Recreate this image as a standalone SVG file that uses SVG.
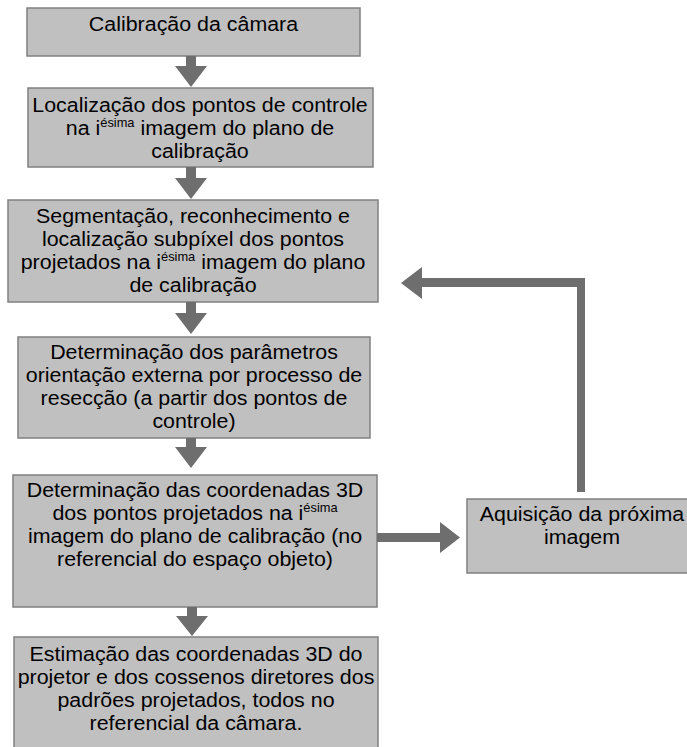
<svg xmlns="http://www.w3.org/2000/svg" width="687" height="747" viewBox="0 0 687 747">
<style>
.box{fill:#c0c0c0;stroke:#808080;stroke-width:1.5}
.t{font-family:"Liberation Sans",Arial,sans-serif;font-size:20px;fill:#000;text-anchor:middle}
.sup{font-size:12px}
.arr{fill:#6e6e6e;stroke:none}
</style>
<rect width="687" height="747" fill="#fff"/>
<g id="n1">
<rect class="box" x="27" y="8" width="333" height="48"/>
<g transform="translate(193.5,0) scale(1.07,1)">
<text class="t" x="0" y="31">Calibração da câmara</text>
</g>
</g>
<g id="n2">
<rect class="box" x="28" y="88" width="345" height="79"/>
<g transform="translate(200,0) scale(1.07,1)">
<text class="t" x="0" y="112">Localização dos pontos de controle</text>
<text class="t" x="0" y="135">na i<tspan class="sup" dy="-8">ésima</tspan><tspan dy="8"> imagem do plano de</tspan></text>
<text class="t" x="0" y="158">calibração</text>
</g>
</g>
<g id="n3">
<rect class="box" x="8" y="200" width="370" height="102"/>
<g transform="translate(193,0) scale(1.07,1)">
<text class="t" x="0" y="223">Segmentação, reconhecimento e</text>
<text class="t" x="0" y="246">localização subpíxel dos pontos</text>
<text class="t" x="0" y="269">projetados na i<tspan class="sup" dy="-8">ésima</tspan><tspan dy="8"> imagem do plano</tspan></text>
<text class="t" x="0" y="292">de calibração</text>
</g>
</g>
<g id="n4">
<rect class="box" x="18" y="337" width="352" height="101"/>
<g transform="translate(194,0) scale(1.07,1)">
<text class="t" x="0" y="359">Determinação dos parâmetros</text>
<text class="t" x="0" y="382">orientação externa por processo de</text>
<text class="t" x="0" y="405">resecção (a partir dos pontos de</text>
<text class="t" x="0" y="428">controle)</text>
</g>
</g>
<g id="n5">
<rect class="box" x="13" y="475" width="364" height="132"/>
<g transform="translate(195,0) scale(1.07,1)">
<text class="t" x="0" y="497">Determinação das coordenadas 3D</text>
<text class="t" x="0" y="520">dos pontos projetados na i<tspan class="sup" dy="-8">ésima</tspan></text>
<text class="t" x="0" y="543">imagem do plano de calibração (no</text>
<text class="t" x="0" y="566">referencial do espaço objeto)</text>
</g>
</g>
<g id="n6">
<rect class="box" x="14" y="637" width="364" height="118"/>
<g transform="translate(196,0) scale(1.07,1)">
<text class="t" x="0" y="661">Estimação das coordenadas 3D do</text>
<text class="t" x="0" y="684">projetor e dos cossenos diretores dos</text>
<text class="t" x="0" y="707">padrões projetados, todos no</text>
<text class="t" x="0" y="730">referencial da câmara.</text>
</g>
</g>
<g id="n7">
<rect class="box" x="467" y="499" width="230" height="74"/>
<g transform="translate(582,0) scale(1.07,1)">
<text class="t" x="0" y="521">Aquisição da próxima</text>
<text class="t" x="0" y="544">imagem</text>
</g>
</g>
<g id="connectors">
<polygon class="arr" points="186,56 196,56 196,66 207,66 191,87 175,66 186,66"/>
<polygon class="arr" points="186,167 196,167 196,178 207,178 191,199 175,178 186,178"/>
<polygon class="arr" points="186,302 196,302 196,313 207,313 191,334 175,313 186,313"/>
<polygon class="arr" points="186,438 196,438 196,447 207,447 191,468 175,447 186,447"/>
<polygon class="arr" points="187,607 197,607 197,616 208,616 192,636 176,616 187,616"/>
<polygon class="arr" points="377,533 440,533 440,522 460,537.5 440,553 440,542 377,542"/>
<polygon class="arr" points="585,492 577,492 577,287 422,287 422,299 401,283 422,267 422,278 585,278"/>
</g>
</svg>
